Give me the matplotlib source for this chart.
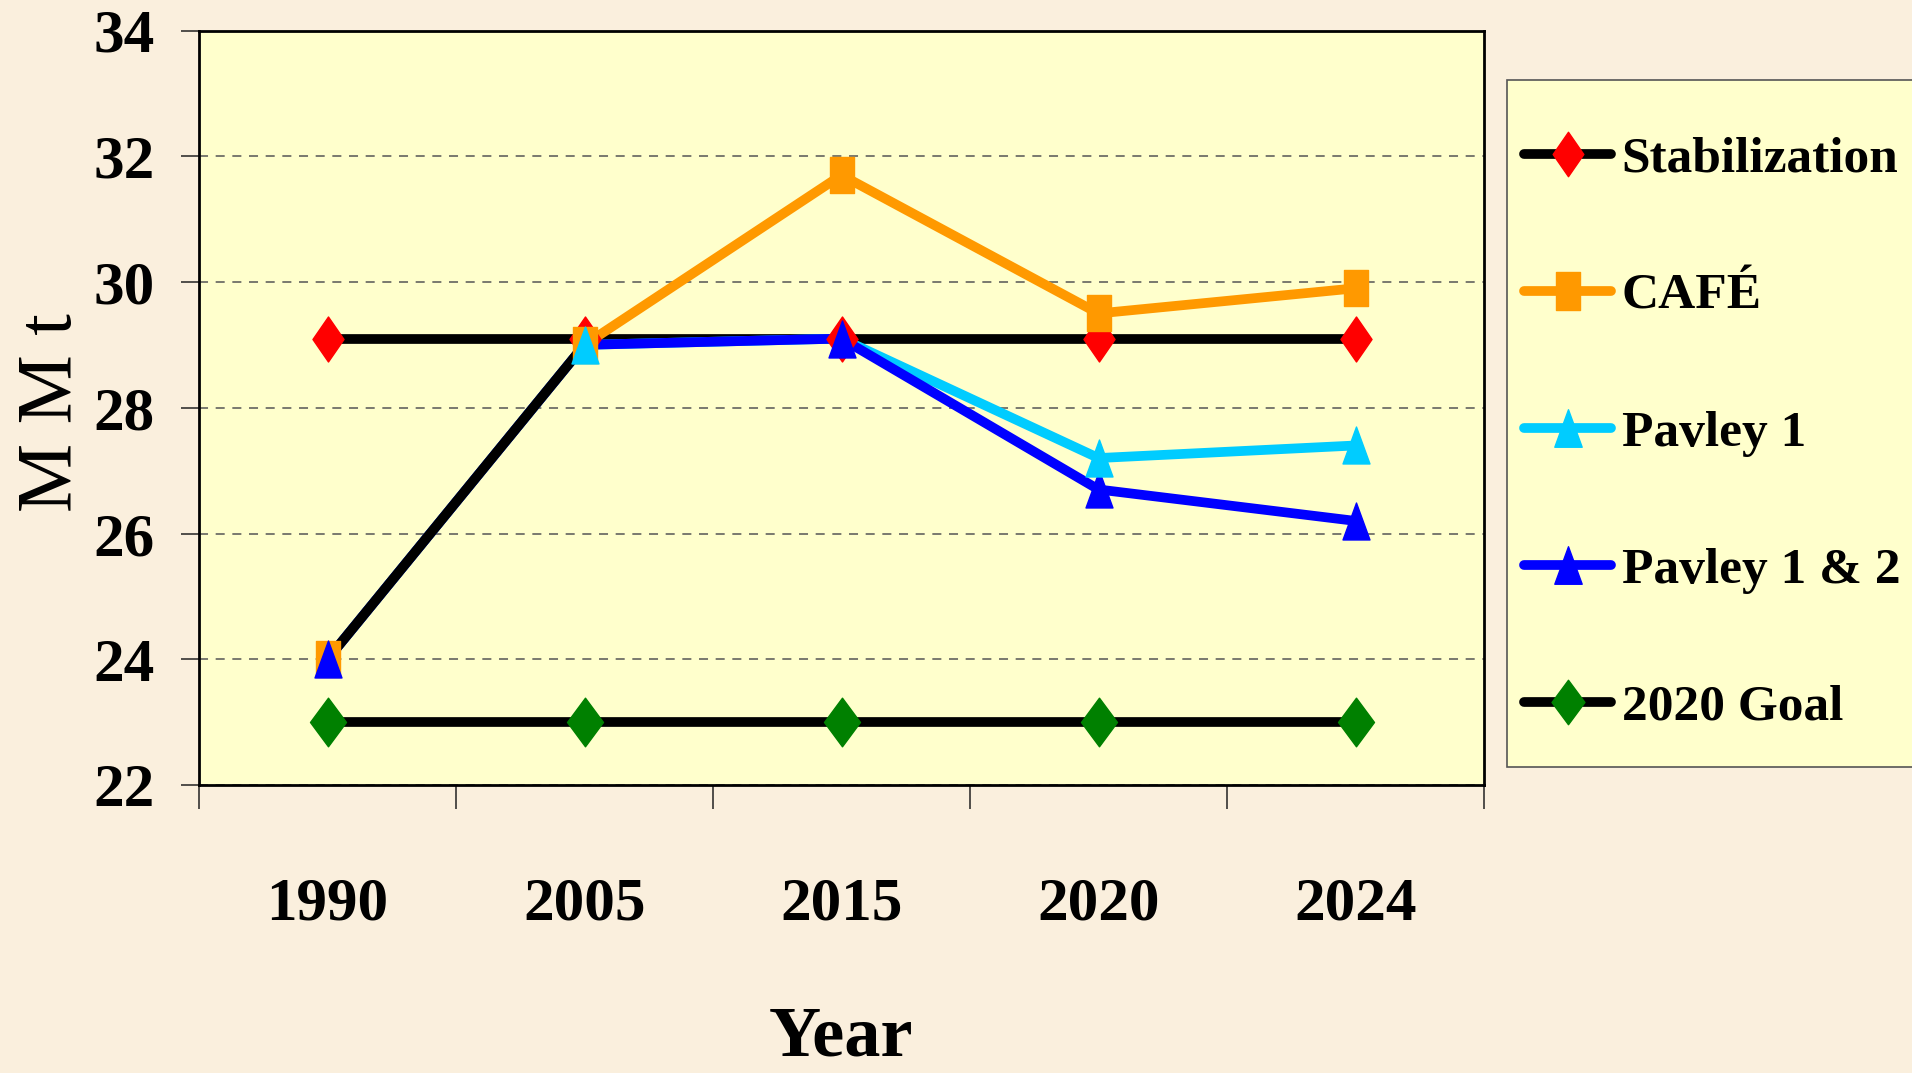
import matplotlib
matplotlib.use("Agg")
import matplotlib.pyplot as plt
from matplotlib.path import Path
from matplotlib.legend_handler import HandlerTuple
from matplotlib.lines import Line2D
from matplotlib.patches import Rectangle

# ---------------- data ----------------
years = ["1990", "2005", "2015", "2020", "2024"]
stabilization = [29.1, 29.1, 29.1, 29.1, 29.1]
cafe = [24.0, 29.0, 31.7, 29.5, 29.9]
pavley_1 = [24.0, 29.0, 29.1, 27.2, 27.4]
pavley_1_2 = [24.0, 29.0, 29.1, 26.7, 26.2]
goal_2020 = [23.0, 23.0, 23.0, 23.0, 23.0]
history = [24.0, 29.0]          # black historical segment 1990 -> 2005
y_ticks = [22, 24, 26, 28, 30, 32, 34]
series_labels = ["Stabilization", "CAFÉ", "Pavley 1", "Pavley 1 & 2", "2020 Goal"]

# ---------------- style ----------------
plt.rcParams["font.family"] = ["Liberation Serif", "DejaVu Serif"]
plt.rcParams["lines.scale_dashes"] = False

FIG_BG = "#FAEFDD"
AX_BG = "#FFFFCC"
ORANGE = "#FF9900"
CYAN = "#00CCFF"
BLUE = "#0000FF"
RED = "#FF0000"
GREEN = "#008000"

def tall_diamond(r):
    return Path([(0, 1), (r, 0), (0, -1), (-r, 0), (0, 1)],
                [Path.MOVETO, Path.LINETO, Path.LINETO, Path.LINETO, Path.CLOSEPOLY])

def tall_square(r):
    return Path([(-r, -1), (r, -1), (r, 1), (-r, 1), (-r, -1)],
                [Path.MOVETO, Path.LINETO, Path.LINETO, Path.LINETO, Path.CLOSEPOLY])

def tall_triangle(r):
    return Path([(0, 1), (r, -1), (-r, -1), (0, 1)],
                [Path.MOVETO, Path.LINETO, Path.LINETO, Path.CLOSEPOLY])

M_RED = tall_diamond(0.69)
M_GREEN = tall_diamond(0.74)
M_SQ = tall_square(0.65)
M_TRI = tall_triangle(0.73)

W, H = 1912, 1073
fig = plt.figure(figsize=(W / 100, H / 100), dpi=100, facecolor=FIG_BG)
ax = fig.add_axes([199 / W, 1 - 785 / H, 1285 / W, 754.5 / H], facecolor=AX_BG)

x = list(range(len(years)))
LW = 7

# lines
ax.plot(x, stabilization, color="black", lw=LW, solid_capstyle="round", zorder=2.0)
ax.plot(x, goal_2020, color="black", lw=LW, solid_capstyle="round", zorder=2.0)
ax.plot(x, cafe, color=ORANGE, lw=LW, solid_capstyle="round", zorder=2.1)
ax.plot(x, pavley_1, color=CYAN, lw=LW, solid_capstyle="round", zorder=2.2)
ax.plot(x, pavley_1_2, color=BLUE, lw=LW, solid_capstyle="round", zorder=2.3)
ax.plot(x[:len(history)], history, color="black", lw=LW, solid_capstyle="round", zorder=2.4)

# markers
ax.plot(x, stabilization, ls="none", marker=M_RED, ms=32.4, color=RED, mec=RED, zorder=3.0)
ax.plot(x, cafe, ls="none", marker=M_SQ, ms=26.6, color=ORANGE, mec=ORANGE, zorder=3.1)
ax.plot(x, pavley_1_2, ls="none", marker=M_TRI, ms=26.6, color=BLUE, mec=BLUE,
        markevery=[0, 2, 3, 4], zorder=3.2)
ax.plot(x, pavley_1, ls="none", marker=M_TRI, ms=26.6, color=CYAN, mec=CYAN,
        markevery=[1, 3, 4], zorder=3.3)
ax.plot(x, goal_2020, ls="none", marker=M_GREEN, ms=35, color=GREEN, mec=GREEN, zorder=3.4)

# legend handles (line + marker overlays)
def lh(color):
    return Line2D([], [], color=color, lw=LW, solid_capstyle="round")
def mh(path, ms, color):
    return Line2D([], [], ls="none", marker=path, ms=ms, color=color, mec=color)

handles = [
    (lh("black"), mh(M_RED, 32, RED)),
    (lh(ORANGE), mh(M_SQ, 27, ORANGE)),
    (lh(CYAN), mh(M_TRI, 27, CYAN)),
    (lh(BLUE), mh(M_TRI, 27, BLUE)),
    (lh("black"), mh(M_GREEN, 32, GREEN)),
]

# legend frame
frame = Rectangle((1507 / W, 1 - 767 / H), (W - 1507 + 20) / W, (767 - 80) / H,
                  transform=fig.transFigure, facecolor=AX_BG, edgecolor="#555555",
                  lw=1.2, zorder=1)
fig.add_artist(frame)

leg = fig.legend(handles, series_labels, handler_map={tuple: HandlerTuple(ndivide=1)},
                 loc="upper left", bbox_to_anchor=(1524 / W, 1 - 136 / H),
                 bbox_transform=fig.transFigure, borderaxespad=0, borderpad=0,
                 prop={"family": ["Liberation Serif"], "weight": "bold", "size": 37},
                 handlelength=1.7, handletextpad=0.2, labelspacing=1.75,
                 frameon=False)
leg.set_zorder(5)

# axes
ax.set_xlim(-0.5, len(years) - 0.5)
ax.set_ylim(y_ticks[0], y_ticks[-1])
ax.set_yticks(y_ticks)
ax.set_yticklabels([str(v) for v in y_ticks], fontsize=44, fontweight="bold")
ax.set_xticks([i - 0.5 for i in range(len(years) + 1)])
ax.set_xticklabels([])
ax.set_xticks(x, minor=True)
ax.set_xticklabels(years, minor=True, fontsize=44, fontweight="bold")
ax.tick_params(axis="x", which="major", length=17, width=1.1, direction="out", color="#222222")
ax.tick_params(axis="x", which="minor", length=0, pad=66)
ax.tick_params(axis="y", which="major", length=13, width=1.1, direction="out", color="#222222", pad=19)

for s in ax.spines.values():
    s.set_linewidth(2.0)
    s.set_color("black")

ax.yaxis.grid(True, color="#555555", lw=1.1, linestyle=(0, (6.5, 5.5)), zorder=1)
ax.set_axisbelow(True)

ax.set_ylabel("M M t", fontsize=56, fontweight="normal")
ax.yaxis.label.set_va("center")
ax.yaxis.label.set_ha("center")
ax.yaxis.set_label_coords((52 - 199) / 1285, 1 - (413 - 30.5) / 754.5)

fig.text(841 / W, 1 - 1056 / H, "Year", ha="center", va="baseline", fontsize=52, fontweight="bold")

fig.savefig("out.png", dpi=100, facecolor=FIG_BG)
